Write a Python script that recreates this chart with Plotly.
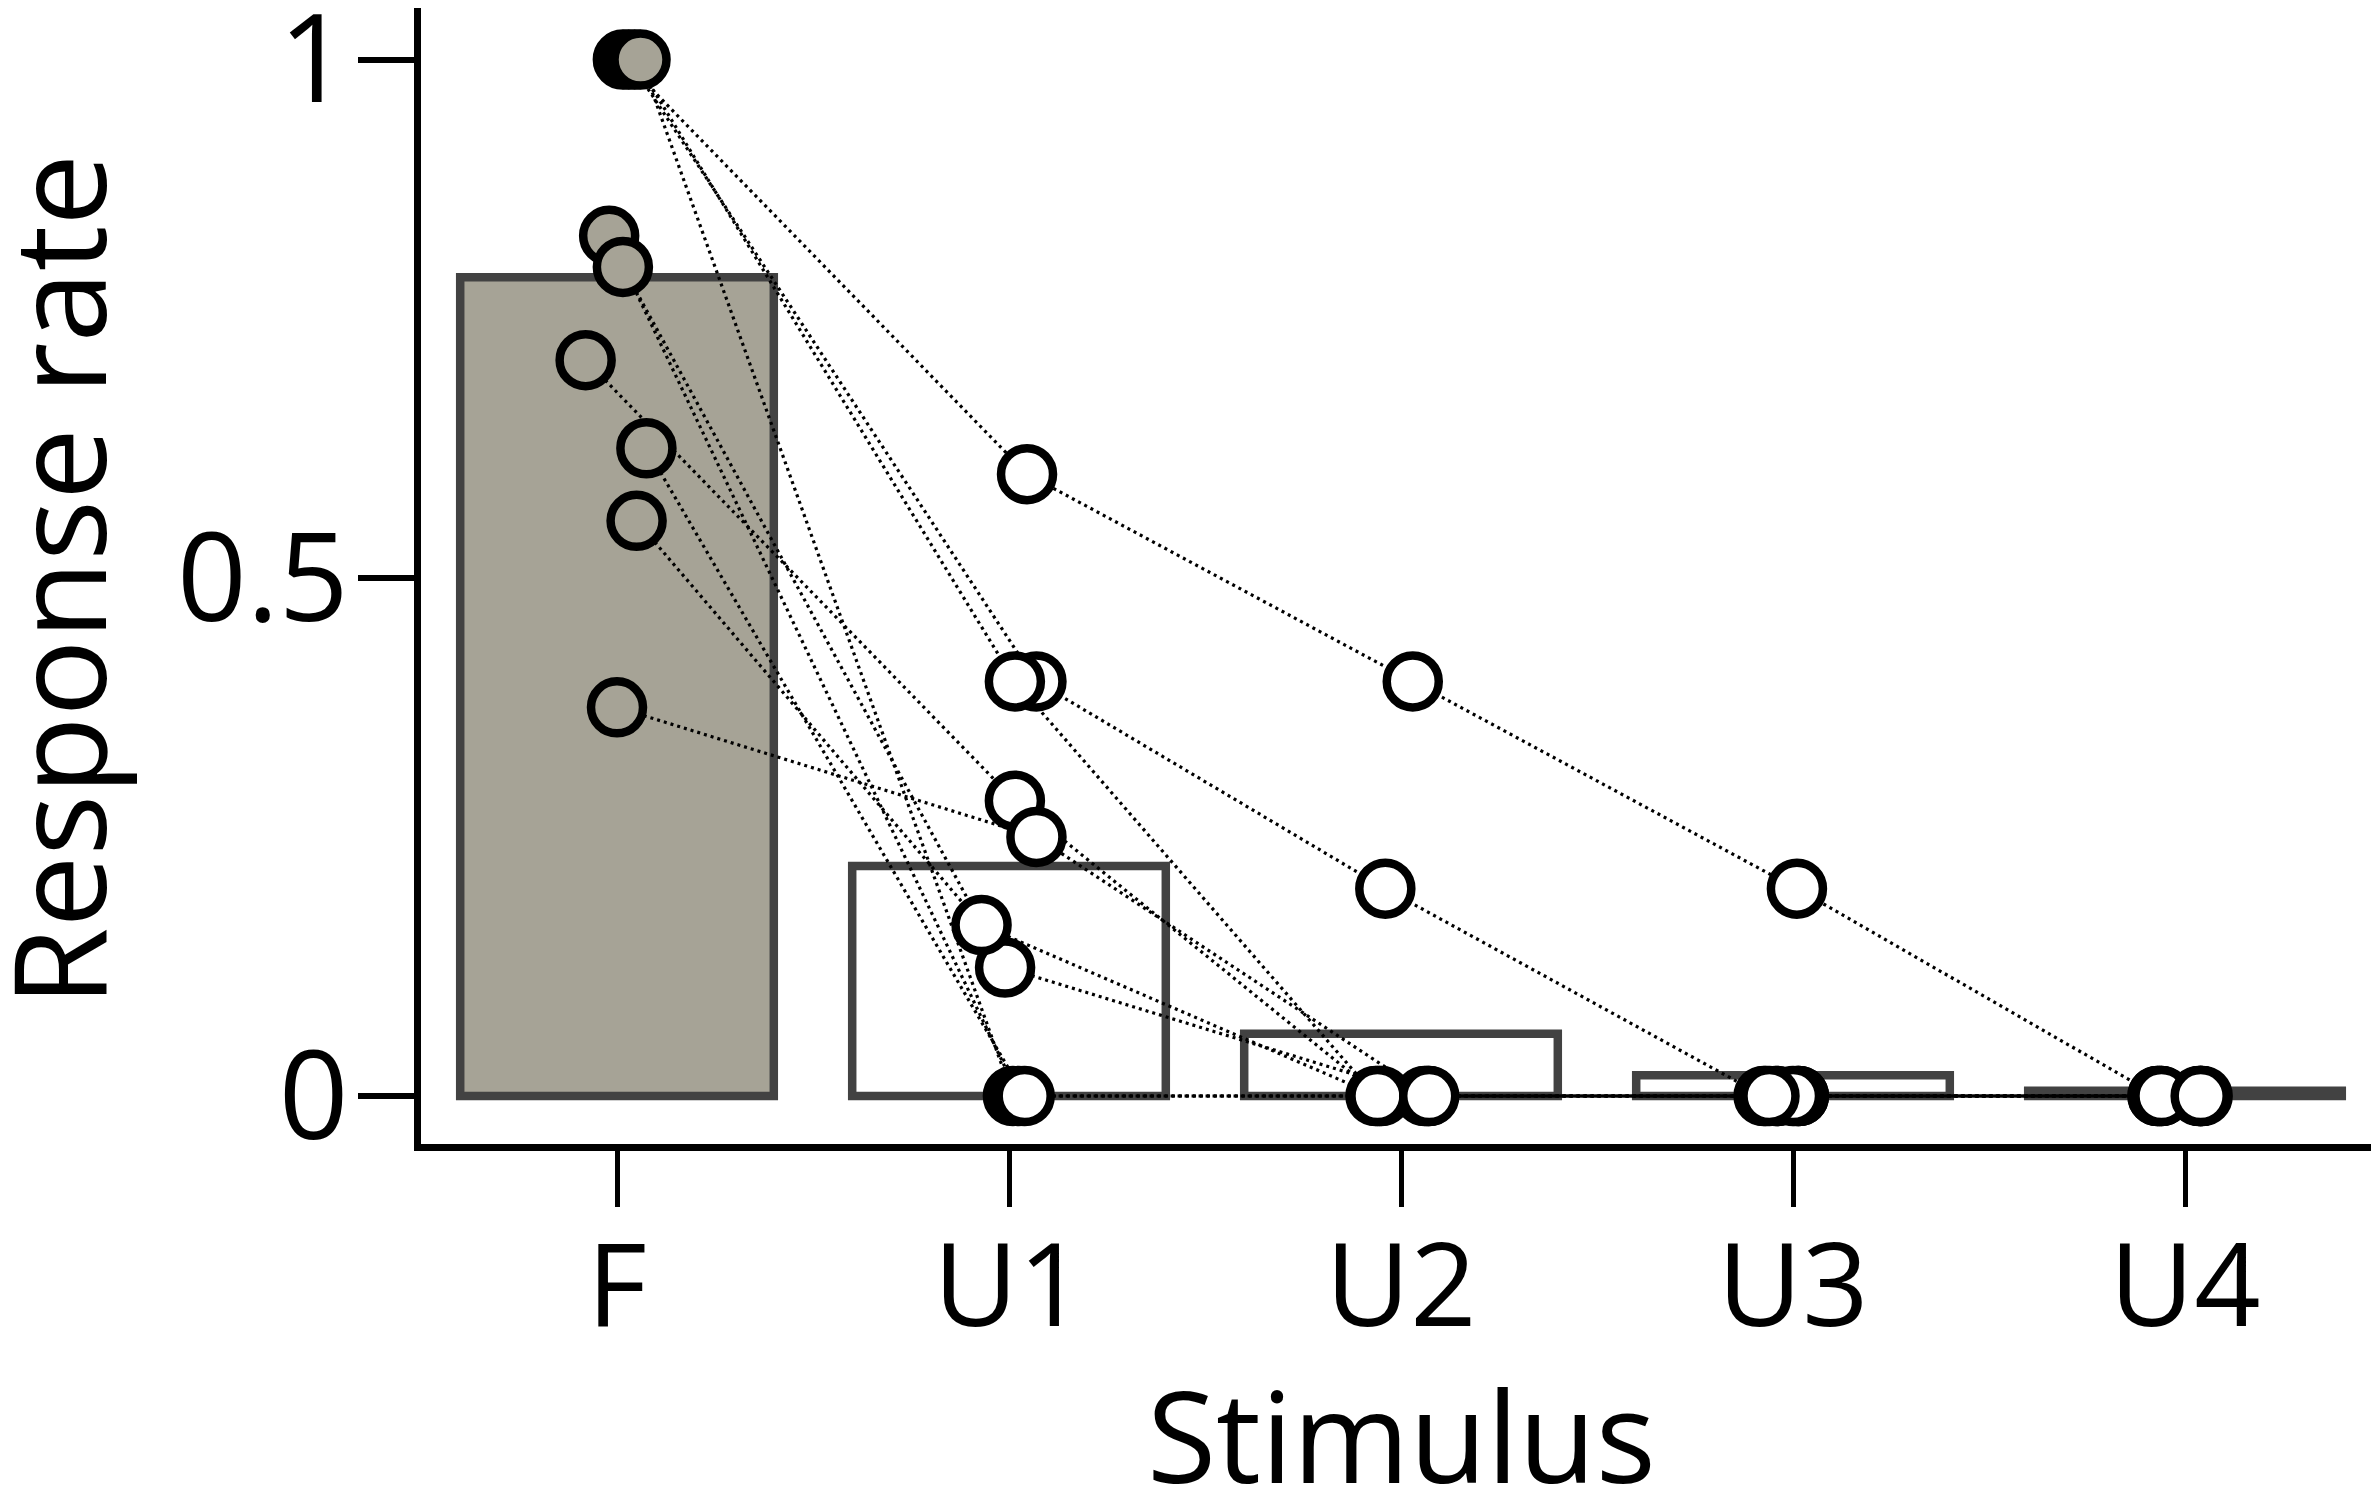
import plotly.graph_objects as go

# ---------------- data ----------------
categories = ["F", "U1", "U2", "U3", "U4"]
bar_means = [0.79, 0.222, 0.06, 0.02, 0.005]

# per-subject response rates (10 subjects)
resp_F = [1.0, 1.0, 1.0, 1.0, 0.83, 0.80, 0.71, 0.625, 0.555, 0.375]
resp_U1 = [0.6, 0.4, 0.4, 0.0, 0.0, 0.124, 0.285, 0.0, 0.165, 0.25]
resp_U2 = [0.4, 0.2, 0.0, 0.0, 0.0, 0.0, 0.0, 0.0, 0.0, 0.0]
resp_U3 = [0.2, 0.0, 0.0, 0.0, 0.0, 0.0, 0.0, 0.0, 0.0, 0.0]
resp_U4 = [0.0, 0.0, 0.0, 0.0, 0.0, 0.0, 0.0, 0.0, 0.0, 0.0]

# horizontal jitter of each subject's point (category units)
jit_F = [0.015, 0.03, 0.045, 0.06, -0.02, 0.015, -0.08, 0.075, 0.05, 0.0]
jit_U1 = [0.046, 0.07, 0.015, 0.01, 0.025, -0.01, 0.015, 0.04, -0.07, 0.07]
jit_U2 = [0.03, -0.04, -0.065, 0.07, -0.05, 0.06, -0.055, 0.065, -0.06, 0.072]
jit_U3 = [0.01, -0.075, 0.015, -0.04, 0.01, -0.07, 0.015, -0.045, 0.0, -0.06]
jit_U4 = [-0.07, 0.04, -0.06, 0.035, -0.065, 0.045, -0.07, 0.04, -0.06, 0.04]

x_title = "Stimulus"
y_title = "Response rate"

# ---------------- styles ----------------
GRAY_FILL = "#a6a396"
BAR_EDGE = "#424242"
FONT = "Open Sans"

resp = [resp_F, resp_U1, resp_U2, resp_U3, resp_U4]
jit = [jit_F, jit_U1, jit_U2, jit_U3, jit_U4]
xpos = list(range(len(categories)))
n_sub = len(resp_F)

fig = go.Figure()

fig.add_trace(go.Bar(
    x=xpos, y=bar_means, width=0.8,
    marker=dict(color=[GRAY_FILL, "white", "white", "white", "white"],
                line=dict(color=BAR_EDGE, width=8.5)),
    showlegend=False, hoverinfo="skip"))

# dotted connecting lines, one per subject
for s in range(n_sub):
    xs = [xpos[c] + jit[c][s] for c in range(len(categories))]
    ys = [resp[c][s] for c in range(len(categories))]
    fig.add_trace(go.Scatter(
        x=xs, y=ys, mode="lines",
        line=dict(color="black", width=3.2, dash="3px,4px"),
        showlegend=False, hoverinfo="skip"))

# markers: unfamiliar stimuli (white), then familiar (gray)
for c in range(len(categories) - 1, -1, -1):
    fig.add_trace(go.Scatter(
        x=[xpos[c] + j for j in jit[c]], y=resp[c], mode="markers",
        marker=dict(size=52, color=GRAY_FILL if c == 0 else "white",
                    line=dict(color="black", width=8.5)),
        showlegend=False, cliponaxis=False))

fig.update_layout(
    width=2379, height=1493,
    margin=dict(l=413, r=6, t=0, b=357, autoexpand=False),
    plot_bgcolor="white", paper_bgcolor="white",
    font=dict(family=FONT, size=120, color="black"),
    annotations=[
        dict(text=x_title, xref="paper", yref="paper", x=0.5, y=-0.2553,
             xanchor="center", yanchor="middle", showarrow=False,
             font=dict(size=126)),
        dict(text=y_title, xref="paper", yref="paper", x=-0.1862, y=0.496,
             xanchor="center", yanchor="middle", showarrow=False,
             textangle=-90, font=dict(size=128)),
    ],
)
fig.update_xaxes(
    range=[-0.5, 4.5], tickvals=xpos, ticktext=categories,
    showline=True, linecolor="black", linewidth=7,
    ticks="outside", ticklen=56, tickwidth=5, tickcolor="black",
    ticklabelstandoff=-20, ticklabeloverflow="allow",
    showgrid=False, zeroline=False, automargin=False,
    tickfont=dict(size=116),
)
fig.update_yaxes(
    range=[-0.0463, 1.0498], tickvals=[0, 0.5, 1], ticktext=["0", "0.5", "1"],
    showline=True, linecolor="black", linewidth=7,
    ticks="outside", ticklen=56, tickwidth=6, tickcolor="black",
    ticklabelstandoff=-15, ticklabeloverflow="allow",
    showgrid=False, zeroline=False, automargin=False,
    tickfont=dict(size=122),
)

fig.write_html("out.html")
